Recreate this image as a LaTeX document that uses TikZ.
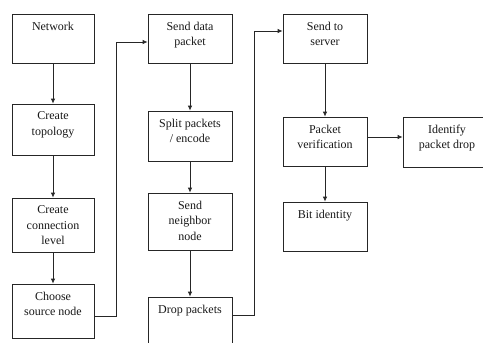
\documentclass[tikz,border=0pt]{standalone}
\usepackage{fontspec}
\setmainfont{Liberation Serif}
\usetikzlibrary{arrows.meta}
\tikzset{
  box/.style={draw=black!85, line width=0.8pt, rectangle, inner sep=0pt},
  txt/.style={anchor=north, align=center, inner sep=2pt, yshift=-6pt,
    font=\fontsize{12}{15.5}\selectfont, text=black!90},
  arr/.style={draw=black!85, line width=0.8pt, -{Latex[length=5pt,width=4.5pt]}},
  ln/.style={draw=black!85, line width=0.8pt},
}
\newcommand{\boxat}[6]{% name, x1, y1, x2, y2, text
  \node[box, minimum width={(#4-#2)*1pt}, minimum height={(#5-#3)*1pt},
        label={[txt]north:#6}] (#1) at ({(#2+#4)/2},{(#3+#5)/2}) {};}
\begin{document}
\begin{tikzpicture}[x=1pt,y=-1pt]
\useasboundingbox (0,0) rectangle (483,343);
\clip (0,0) rectangle (483,343);
\fill[white] (0,0) rectangle (483,343);
% column 1
\boxat{net}{12}{14}{94}{63}{Network}
\boxat{topo}{12}{104}{94}{155}{Create\\topology}
\boxat{conn}{12}{198}{94}{252}{Create\\connection\\level}
\boxat{src}{12}{284}{94}{338}{Choose\\source node}
% column 2
\boxat{send}{148}{14}{232}{63}{Send data\\packet}
\boxat{split}{148}{111}{232}{161}{Split packets\\/ encode}
\boxat{neigh}{148}{193}{232}{250}{Send\\neighbor\\node}
\boxat{drop}{148}{297}{232}{361}{Drop packets}
% column 3
\boxat{server}{283}{14}{367}{63}{Send to\\server}
\boxat{verif}{283}{117}{367}{166}{Packet\\verification}
\boxat{bit}{283}{202}{367}{251}{Bit identity}
\boxat{ident}{403}{117}{491}{167}{Identify\\packet drop}
% vertical arrows
\draw[arr] (net.south) -- (topo.north);
\draw[arr] (topo.south) -- (conn.north);
\draw[arr] (conn.south) -- (src.north);
\draw[arr] (send.south) -- (split.north);
\draw[arr] (split.south) -- (neigh.north);
\draw[arr] (neigh.south) -- (drop.north);
\draw[arr] (server.south) -- (verif.north);
\draw[arr] (verif.south) -- (bit.north);
% horizontal
\draw[arr] ([yshift=4.5pt]verif.east) -- ([yshift=4.5pt]verif.east -| ident.west);
% elbows
\draw[arr] ([yshift=-5pt]src.east) -- ++(22,0) |- ([yshift=-3.5pt]send.west);
\draw[arr] ([yshift=13.5pt]drop.east) -- ++(22,0) |- ([yshift=7.5pt]server.west);
\end{tikzpicture}
\end{document}
